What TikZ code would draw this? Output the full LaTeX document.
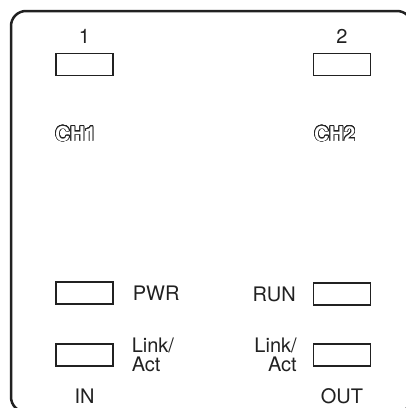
\documentclass[tikz,border=0pt]{standalone}
\usepackage{fontspec}
\setmainfont{TeX Gyre Heros}
\usepackage{contour}
\contourlength{0.7pt}
\contournumber{24}
\usetikzlibrary{positioning}
\definecolor{inkgray}{rgb}{0.13, 0.13, 0.13}

\begin{document}
\begin{tikzpicture}[x=1pt, y=-1pt,
        led/.style={draw=inkgray, line width=1.2pt, minimum width=57pt, minimum height=22pt, inner sep=0pt},
        lbl/.style={font=\fontsize{20}{19}\selectfont, text=inkgray, inner sep=0pt},
        chn/.style={font=\fontsize{20.5}{21}\selectfont\bfseries, inner sep=0pt}]
        \useasboundingbox (0,0) rectangle (406,408);
        \draw[line width=2.5pt, rounded corners=15pt, inkgray] (11,11) rectangle (412,412);

        \node[led] (ch1) at (84.5,64.5) {};
        \node[led] (ch2) at (342,64.5) {};
        \node[led] (pwr) at (84.5,293) {};
        \node[led] (run) at (342,294) {};
        \node[led] (lkin) at (84.5,355) {};
        \node[led] (lkout) at (342,355) {};

        \node[lbl, above=9pt of ch1] (n1) {1};
        \node[lbl, above=9pt of ch2] (n2) {2};
        \node[chn, anchor=base west] (t1) at (55,141) {\contour{inkgray}{\textcolor{white}{CH1}}};
        \node[chn, anchor=base west] (t2) at (314,141) {\contour{inkgray}{\textcolor{white}{CH2}}};

        \node[lbl, right=19pt of pwr] (tpwr) {PWR};
        \node[lbl, left=17pt of run] (trun) {RUN};
        \node[lbl, right=18pt of lkin, align=left] (tlkin) {Link/\\Act};
        \node[lbl, left=16pt of lkout, align=right] (tlkout) {Link/\\Act};
        \node[lbl, below=22pt of lkin] (tin) {IN};
        \node[lbl, below=22pt of lkout] (tout) {OUT};
    \end{tikzpicture}
\end{document}
